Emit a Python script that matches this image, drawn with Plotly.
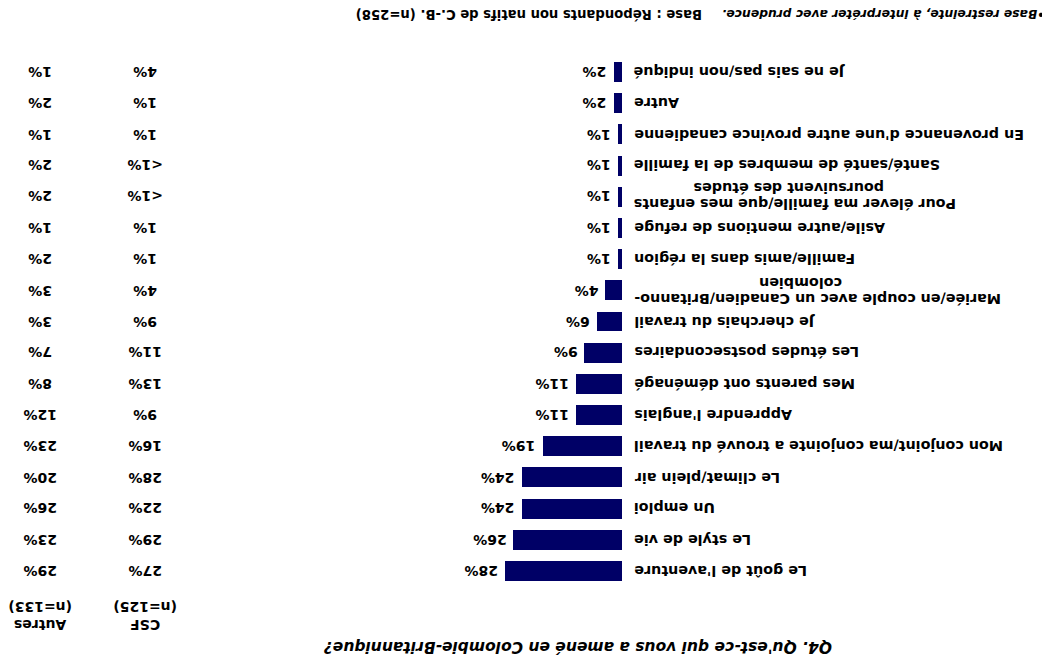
import plotly.graph_objects as go

categories = [
    "Le goût de l'aventure",
    "Le style de vie",
    "Un emploi",
    "Le climat/plein air",
    "Mon conjoint/ma conjointe a trouvé du travail",
    "Apprendre l'anglais",
    "Mes parents ont déménagé",
    "Les études postsecondaires",
    "Je cherchais du travail",
    "Mariée/en couple avec un Canadien/Britanno-<br>colombien",
    "Famille/amis dans la région",
    "Asile/autre mentions de refuge",
    "Pour élever ma famille/que mes enfants<br>poursuivent des études",
    "Santé/santé de membres de la famille",
    "En provenance d'une autre province canadienne",
    "Autre",
    "Je ne sais pas/non indiqué",
]
total = [28, 26, 24, 24, 19, 11, 11, 9, 6, 4, 1, 1, 1, 1, 1, 2, 2]
csf = ["27%", "29%", "22%", "28%", "16%", "9%", "13%", "11%", "9%", "4%",
       "1%", "1%", "&lt;1%", "&lt;1%", "1%", "1%", "4%"]
autres = ["29%", "23%", "26%", "20%", "23%", "12%", "8%", "7%", "3%", "3%",
          "2%", "1%", "2%", "2%", "1%", "2%", "1%"]
col_headers = ["CSF<br>(n=125)", "Autres<br>(n=133)"]
title_text = "Q4. Qu'est-ce qui vous a amené en Colombie-Britannique?"
note_base = "Base : Répondants non natifs de C.-B. (n=258)"
note_restr = "•Base restreinte, à interpréter avec prudence."

W, H = 1050, 660
OFF = 8  # page body margin
FONT = "DejaVu Sans, Liberation Sans, Arial, sans-serif"
BAR = "#000066"

# The whole chart is drawn rotated by 180 degrees, as in the reference.
x0_px, px_per = 622.0 - OFF, 4.18
row0_px, row_step = 571.0 - OFF, 31.19
xr = [x0_px / px_per, -(W - x0_px) / px_per]
ybot = -(H - row0_px) / row_step
yr = [ybot, ybot + H / row_step]


def px(X):
    return (X - OFF) / W


def py(Y):
    return (H - (Y - OFF)) / H


def f(size, italic=False):
    d = dict(family=FONT, size=size, color="black", weight="bold")
    if italic:
        d["style"] = "italic"
    return d


LAB = 14.3
VAL = 14
idx = list(range(len(categories)))
second_line_center = {9: 179, 12: 167}

fig = go.Figure()
fig.add_trace(go.Bar(
    x=total, y=idx, orientation="h", width=0.64,
    marker=dict(color=BAR, line=dict(width=0)),
    hoverinfo="skip", showlegend=False,
))

ann = []
for i, (c, v, a, b) in enumerate(zip(categories, total, csf, autres)):
    lines = c.split("<br>")
    if len(lines) == 1:
        ann.append(dict(x=0, y=i, xref="x", yref="y", text=c, textangle=180,
                        xanchor="left", yanchor="middle", xshift=10,
                        showarrow=False, font=f(LAB)))
    else:
        ann.append(dict(x=0, y=i, xref="x", yref="y", text=lines[0], textangle=180,
                        xanchor="left", yanchor="middle", xshift=10, yshift=-8,
                        showarrow=False, font=f(LAB)))
        ann.append(dict(x=0, y=i, xref="x", yref="y", text=lines[1], textangle=180,
                        xanchor="center", yanchor="middle",
                        xshift=second_line_center[i], yshift=8,
                        showarrow=False, font=f(LAB)))
    ann.append(dict(x=v, y=i, xref="x", yref="y", text=f"{v}%", textangle=180,
                    xanchor="right", yanchor="middle", xshift=-5,
                    showarrow=False, font=f(VAL)))
    ann.append(dict(x=px(145), y=i, xref="paper", yref="y", text=a, textangle=180,
                    xanchor="center", yanchor="middle", showarrow=False, font=f(VAL)))
    ann.append(dict(x=px(40), y=i, xref="paper", yref="y", text=b, textangle=180,
                    xanchor="center", yanchor="middle", showarrow=False, font=f(VAL)))

for xpx, t in zip([145, 40], col_headers):
    ann.append(dict(x=px(xpx), y=py(616), xref="paper", yref="paper", text=t,
                    textangle=180, xanchor="center", yanchor="middle",
                    showarrow=False, font=f(14)))

ann.append(dict(x=px(578), y=py(647), xref="paper", yref="paper", text=title_text,
                textangle=180, xanchor="center", yanchor="middle", showarrow=False,
                font=f(15.5, italic=True)))
ann.append(dict(x=px(1047), y=py(14), xref="paper", yref="paper", text=note_restr,
                textangle=180, xanchor="right", yanchor="middle", showarrow=False,
                font=f(12.3, italic=True)))
ann.append(dict(x=px(704), y=py(14), xref="paper", yref="paper", text=note_base,
                textangle=180, xanchor="right", yanchor="middle", showarrow=False,
                font=f(13.2)))

fig.update_layout(
    width=W, height=H,
    margin=dict(l=0, r=0, t=0, b=0),
    paper_bgcolor="white", plot_bgcolor="white",
    xaxis=dict(range=xr, visible=False, fixedrange=True),
    yaxis=dict(range=yr, visible=False, fixedrange=True),
    annotations=ann,
    bargap=0,
)

fig.write_html("out.html")
